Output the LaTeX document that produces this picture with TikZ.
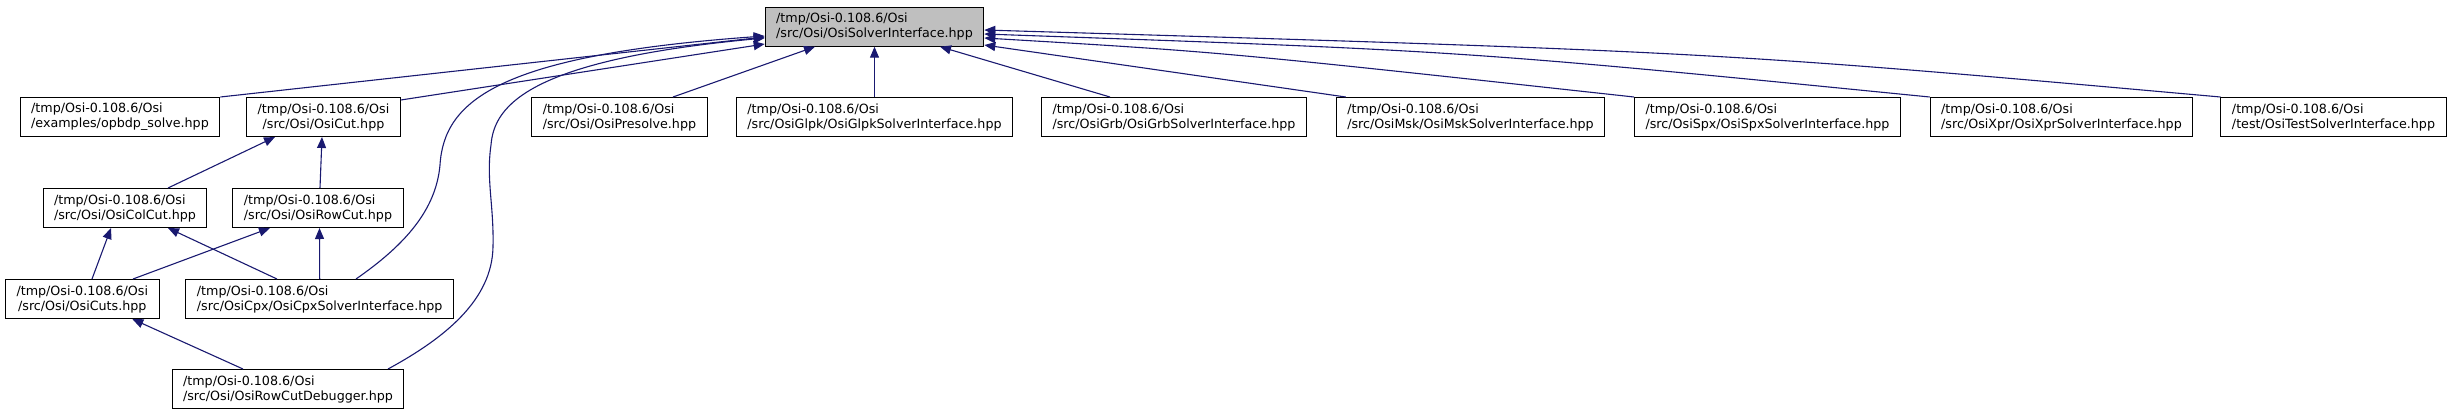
\documentclass[tikz,border=0pt]{standalone}
\usepackage{fontspec}
\setmainfont{DejaVu Sans}
\usepackage{tikz}
\usetikzlibrary{arrows.meta}
\definecolor{edgeblue}{HTML}{191970}
\definecolor{rootgray}{HTML}{BFBFBF}
\tikzstyle{hppfile} = [rectangle, draw=black, line width=1pt, fill=white, inner xsep=11pt, inner ysep=2pt, minimum height=39pt, align=left, font=\fontsize{12.7}{15}\selectfont]
\tikzstyle{arrow} = [draw=edgeblue, line width=1.1pt, ->, >={Triangle[length=11pt,width=9pt]}]
\begin{document}
\begin{tikzpicture}[x=1pt,y=1pt]
        \useasboundingbox (0,0) rectangle (2453,-416);
        \node (root) [hppfile, fill=rootgray] at (874.5,-26.7) {/tmp/Osi-0.108.6/Osi\\/src/Osi/OsiSolverInterface.hpp};
        \node (glpk) [hppfile, below of=root, node distance=90.3pt] {/tmp/Osi-0.108.6/Osi\\/src/OsiGlpk/OsiGlpkSolverInterface.hpp};
        \node (presolve) [hppfile, left of=glpk, node distance=255pt] {/tmp/Osi-0.108.6/Osi\\/src/Osi/OsiPresolve.hpp};
        \node (osicut) [hppfile, align=center, left of=presolve, node distance=296pt] {/tmp/Osi-0.108.6/Osi\\/src/Osi/OsiCut.hpp};
        \node (opbdp) [hppfile, left of=osicut, node distance=203.5pt] {/tmp/Osi-0.108.6/Osi\\/examples/opbdp\_solve.hpp};
        \node (grb) [hppfile, right of=glpk, node distance=299.5pt] {/tmp/Osi-0.108.6/Osi\\/src/OsiGrb/OsiGrbSolverInterface.hpp};
        \node (msk) [hppfile, right of=grb, node distance=296.5pt] {/tmp/Osi-0.108.6/Osi\\/src/OsiMsk/OsiMskSolverInterface.hpp};
        \node (spx) [hppfile, right of=msk, node distance=297pt] {/tmp/Osi-0.108.6/Osi\\/src/OsiSpx/OsiSpxSolverInterface.hpp};
        \node (xpr) [hppfile, right of=spx, node distance=294pt] {/tmp/Osi-0.108.6/Osi\\/src/OsiXpr/OsiXprSolverInterface.hpp};
        \node (test) [hppfile, right of=xpr, node distance=272pt] {/tmp/Osi-0.108.6/Osi\\/test/OsiTestSolverInterface.hpp};
        \node (colcut) [hppfile, below of=opbdp, node distance=91pt, xshift=5pt] {/tmp/Osi-0.108.6/Osi\\/src/Osi/OsiColCut.hpp};
        \node (rowcut) [hppfile, right of=colcut, node distance=193pt] {/tmp/Osi-0.108.6/Osi\\/src/Osi/OsiRowCut.hpp};
        \node (cuts) [hppfile, align=center, below of=colcut, node distance=91pt, xshift=-42.7pt] {/tmp/Osi-0.108.6/Osi\\/src/Osi/OsiCuts.hpp};
        \node (cpx) [hppfile, right of=cuts, node distance=237.4pt] {/tmp/Osi-0.108.6/Osi\\/src/OsiCpx/OsiCpxSolverInterface.hpp};
        \node (debugger) [hppfile, below of=cpx, node distance=90pt, xshift=-31.7pt] {/tmp/Osi-0.108.6/Osi\\/src/Osi/OsiRowCutDebugger.hpp};

            % Add arrows connecting the nodes
        \draw [arrow] (opbdp.north east) -- ([yshift=-10.3pt]root.west);
        \draw [arrow] ([yshift=-3pt]osicut.north east) -- ([yshift=-17.3pt]root.west);
        \draw [arrow] ([xshift=53.5pt]presolve.north) -- ([xshift=-59.5pt]root.south);
        \draw [arrow] (glpk) -- (root);
        \draw [arrow] ([xshift=-64pt]grb.north) -- ([xshift=65.5pt]root.south);
        \draw [arrow] ([xshift=10pt]msk.north west) -- ([yshift=-18.3pt]root.east);
        \draw [arrow] (spx.north west) .. controls (1222,-52) .. ([yshift=-11.3pt]root.east);
        \draw [arrow] (xpr.north west) .. controls (1466,-51) .. ([yshift=-7.3pt]root.east);
        \draw [arrow] (test.north west) .. controls (1717,-52) .. ([yshift=-3.3pt]root.east);
        \draw [arrow] ([xshift=43pt]colcut.north) -- ([xshift=-48.5pt]osicut.south);
        \draw [arrow] ([xshift=2pt]rowcut.north) -- ([xshift=-1.5pt]osicut.south);
        \draw [arrow] ([xshift=9.7pt]cuts.north) -- ([xshift=-14pt]colcut.south);
        \draw [arrow] ([xshift=50.7pt]cuts.north) -- ([xshift=-48pt]rowcut.south);
        \draw [arrow] ([xshift=-42.7pt]cpx.north) -- ([xshift=43pt]colcut.south);
        \draw [arrow] (cpx.north) -- ([xshift=1.5pt]rowcut.south);
        \draw [arrow] ([xshift=36.3pt]cpx.north) .. controls (405,-245) and (436,-210) .. (440,-165)
            .. controls (444,-100) and (500,-55) .. ([yshift=-9.3pt]root.west);
        \draw [arrow] ([xshift=-45pt]debugger.north) -- ([xshift=50pt]cuts.south);
        \draw [arrow] ([xshift=100pt]debugger.north) .. controls (445,-338) and (492,-300) .. (493,-247)
            .. controls (494,-205) and (486,-180) .. (491,-145)
            .. controls (494,-105) and (530,-60) .. ([yshift=-11.3pt]root.west);
    \end{tikzpicture}
\end{document}
